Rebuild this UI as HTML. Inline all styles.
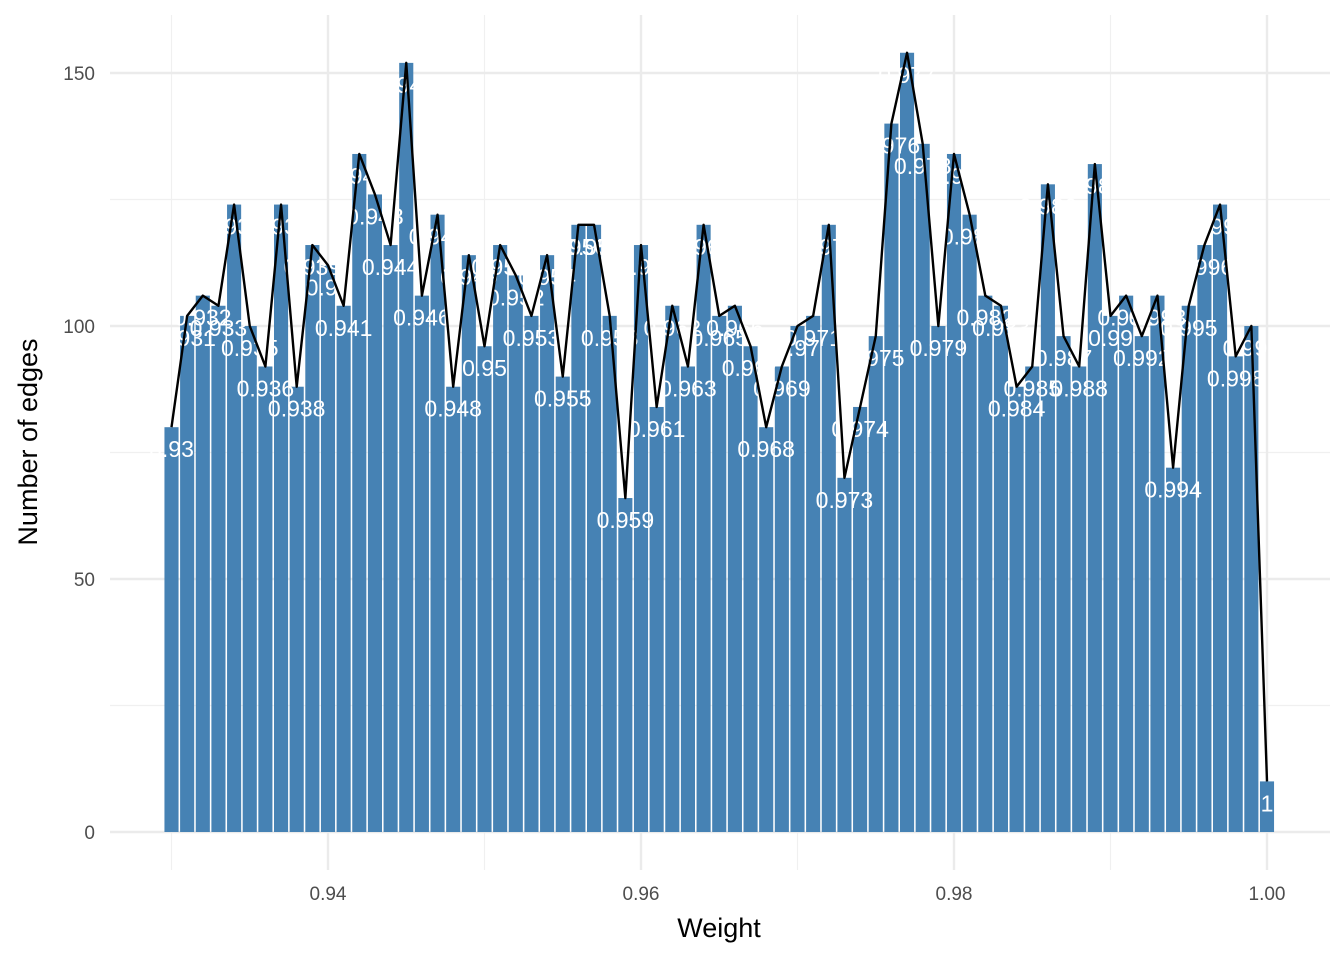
<!DOCTYPE html>
<html><head><meta charset="utf-8"><style>
body{margin:0;background:#fff}
svg{display:block;font-family:"Liberation Sans","DejaVu Sans",sans-serif}
</style></head><body>
<svg id="chart" width="1344" height="960" viewBox="0 0 1344 960" xmlns="http://www.w3.org/2000/svg">
<g id="grid"></g>
<g id="bars"></g>
<g id="labels"></g>
<g id="line"></g>
<g id="axes"></g>
<text x="719" y="937" text-anchor="middle" font-size="27" fill="#000">Weight</text>
<text transform="translate(37,442) rotate(-90)" text-anchor="middle" font-size="27" fill="#000">Number of edges</text>
</svg>
<script>
const weights = [0.930,0.931,0.932,0.933,0.934,0.935,0.936,0.937,0.938,0.939,0.940,0.941,0.942,0.943,0.944,0.945,0.946,0.947,0.948,0.949,0.950,0.951,0.952,0.953,0.954,0.955,0.956,0.957,0.958,0.959,0.960,0.961,0.962,0.963,0.964,0.965,0.966,0.967,0.968,0.969,0.970,0.971,0.972,0.973,0.974,0.975,0.976,0.977,0.978,0.979,0.980,0.981,0.982,0.983,0.984,0.985,0.986,0.987,0.988,0.989,0.990,0.991,0.992,0.993,0.994,0.995,0.996,0.997,0.998,0.999,1.000];
const counts = [80,102,106,104,124,100,92,124,88,116,112,104,134,126,116,152,106,122,88,114,96,116,110,102,114,90,120,120,102,66,116,84,104,92,120,102,104,96,80,92,100,102,120,70,84,98,140,154,136,100,134,122,106,104,88,92,128,98,92,132,102,106,98,106,72,104,116,124,94,100,10];
const xTicks = [0.94,0.96,0.98,1.00];
const xTickLabels = ["0.94","0.96","0.98","1.00"];
const xMinor = [0.93,0.95,0.97,0.99];
const yTicks = [0,50,100,150];
const yMinor = [25,75,125];

const NS="http://www.w3.org/2000/svg";
const X0=110,X1=1330,Y0=15,Y1=870;
function xs(v){return 171.5+(v-0.93)*15650;}
function ys(v){return 832-v*5.06;}
function mk(tag,attrs,parent){const e=document.createElementNS(NS,tag);for(const k in attrs)e.setAttribute(k,attrs[k]);parent.appendChild(e);return e;}
const grid=document.getElementById('grid');
yMinor.forEach(v=>{const l=mk('line',{x1:X0,x2:X1,y1:ys(v),y2:ys(v),stroke:'#f0f0f0','stroke-width':1.2},grid);

});
xMinor.forEach(v=>{const l=mk('line',{x1:xs(v),x2:xs(v),y1:Y0,y2:Y1,stroke:'#f0f0f0','stroke-width':1.2},grid);

});
yTicks.forEach(v=>{const l=mk('line',{x1:X0,x2:X1,y1:ys(v),y2:ys(v),stroke:'#ebebeb','stroke-width':2.4},grid);

});
xTicks.forEach(v=>{const l=mk('line',{x1:xs(v),x2:xs(v),y1:Y0,y2:Y1,stroke:'#ebebeb','stroke-width':2.4},grid);

});
const bars=document.getElementById('bars'),labels=document.getElementById('labels');
const bw=14.1;
weights.forEach((w,i)=>{const c=counts[i];
const r=mk('rect',{x:xs(w)-bw/2,y:ys(c),width:bw,height:ys(0)-ys(c),fill:'#4682b4'},bars);


});
weights.forEach((w,i)=>{const c=counts[i];
const t=mk('text',{x:xs(w),y:ys(c)+30,'text-anchor':'middle','font-size':23,fill:'#fff'},labels);
t.textContent=String(parseFloat(w.toFixed(3)));


});
const lg=document.getElementById('line');
const p=mk('polyline',{points:weights.map((w,i)=>xs(w)+','+ys(counts[i])).join(' '),fill:'none',stroke:'#000','stroke-width':2.4,'stroke-linejoin':'round'},lg);


const ax=document.getElementById('axes');
yTicks.forEach(v=>{const t=mk('text',{x:95,y:ys(v)+7,'text-anchor':'end','font-size':19,fill:'#4d4d4d'},ax);t.textContent=v;

});
xTicks.forEach((v,i)=>{const t=mk('text',{x:xs(v),y:900,'text-anchor':'middle','font-size':19,fill:'#4d4d4d'},ax);t.textContent=xTickLabels[i];

});
</script>
</body></html>
